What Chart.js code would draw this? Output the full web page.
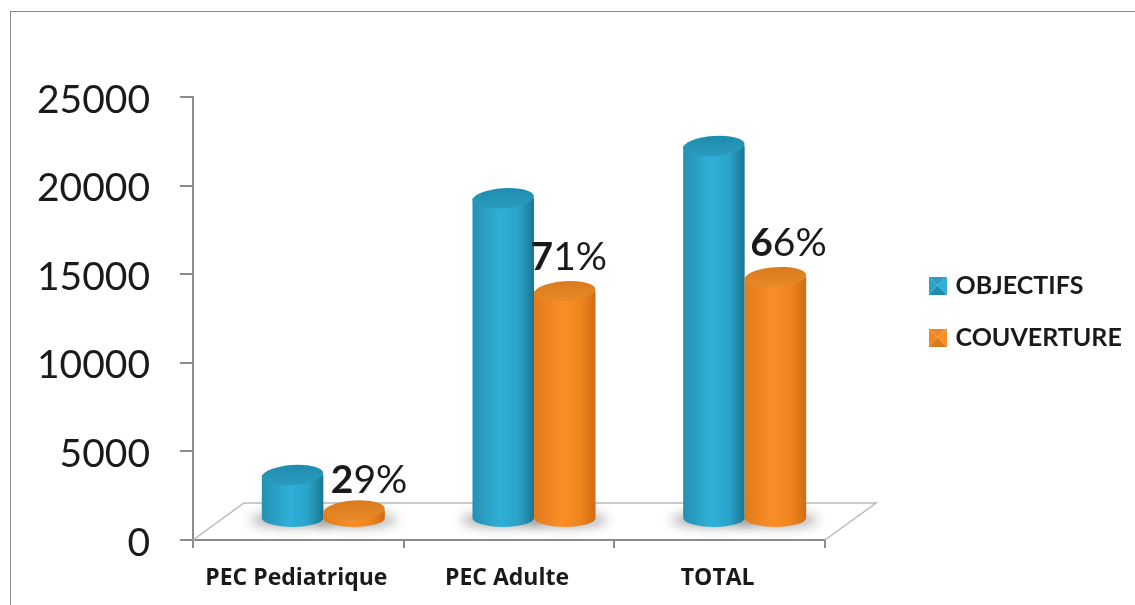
<!DOCTYPE html>
<html>
<head>
<meta charset="utf-8">
<style>
  html, body { margin: 0; padding: 0; background: #fff; overflow: hidden; }
  #frame { position: absolute; left: 10px; top: 11px; width: 1125px; height: 594px; border-left: 1px solid #8a8a8a; border-top: 1px solid #8a8a8a; }
  canvas { position: absolute; left: 0; top: 0; filter: blur(0.4px); }
</style>
<script src="https://cdn.jsdelivr.net/npm/chart.js@4"></script>
</head>
<body>
<div id="frame"></div>
<canvas id="myChart" width="1135" height="605"></canvas>
<script>
  const categories = ["PEC Pediatrique", "PEC Adulte", "TOTAL"];
  const objectifs = [2480, 18100, 21050];
  const couverture = [480, 12850, 13650];
  const coverLabels = ["29%", "71%", "66%"];
  const yMax = 25000;
  const yStep = 5000;

  // depth of the fake 3D floor, and where the cylinders stand on it
  const floorDepth = { x: 51, y: 37 };
  const barShift = { x: 25, y: 21 };
  const labelNudge = [[15, 4], [4, 0], [13, 0]];
  const fontName = "Lato, 'Open Sans', sans-serif";

  const blue = { edgeL: "#2590b2", mid: "#2fb0d8", edgeR: "#1a7592", cap: "#1f8cae", capHi: "#2a9cc0", fill: "#2aa3c9" };
  const orange = { edgeL: "#e27a1c", mid: "#fa8f28", edgeR: "#d06c14", cap: "#d97a1d", capHi: "#e88a28", fill: "#f0851f" };

  function legendMarker(pal) {
    var c = document.createElement("canvas");
    c.width = 18;
    c.height = 18;
    var g = c.getContext("2d");
    function tri(color, x1, y1, x2, y2) {
      g.fillStyle = color;
      g.beginPath();
      g.moveTo(9, 9);
      g.lineTo(x1, y1);
      g.lineTo(x2, y2);
      g.fill();
    }
    tri(pal.capHi, 0, 0, 18, 0);
    tri(pal.mid, 18, 0, 18, 18);
    tri(pal.cap, 18, 18, 0, 18);
    tri(pal.fill, 0, 18, 0, 0);
    return c;
  }

  function drawCylinder(ctx, x, top, base, w, pal) {
    var rx = w / 2;
    var ry = 10;
    var left = x - rx;
    var right = x + rx;

    var body = ctx.createLinearGradient(left, 0, right, 0);
    body.addColorStop(0, pal.edgeL);
    body.addColorStop(0.45, pal.mid);
    body.addColorStop(0.75, pal.fill);
    body.addColorStop(1, pal.edgeR);
    ctx.fillStyle = body;
    ctx.beginPath();
    ctx.moveTo(left, top);
    ctx.lineTo(left, base);
    ctx.ellipse(x, base, rx, ry - 1, 0, Math.PI, 0, true);
    ctx.lineTo(right, top);
    ctx.closePath();
    ctx.fill();

    var cap = ctx.createLinearGradient(0, top - ry, 0, top + ry);
    cap.addColorStop(0, pal.cap);
    cap.addColorStop(1, pal.capHi);
    ctx.fillStyle = cap;
    ctx.beginPath();
    ctx.ellipse(x, top, rx, ry, -0.07, 0, Math.PI * 2);
    ctx.fill();
  }

  const fakeDepth = {
    id: "fakeDepth",
    afterLayout: function (chart) {
      // legend sits outside the plot, right of the floor
      var lg = chart.legend;
      lg.left = 932 - lg.options.labels.padding;
      lg.right = 1135;
      lg.top = 246;
      lg.bottom = 400;
      lg.width = lg.right - lg.left;
      lg.height = lg.bottom - lg.top;
    },
    beforeDatasetsDraw: function (chart) {
      var ctx = chart.ctx;
      var a = chart.chartArea;
      ctx.save();
      ctx.strokeStyle = "#b9b9b9";
      ctx.lineWidth = 1.5;
      ctx.beginPath();
      ctx.moveTo(a.left, a.bottom);
      ctx.lineTo(a.left + floorDepth.x, a.bottom - floorDepth.y);
      ctx.lineTo(a.right + floorDepth.x, a.bottom - floorDepth.y);
      ctx.lineTo(a.right, a.bottom);
      ctx.stroke();

      // soft shadows under the cylinders
      ctx.filter = "blur(6px)";
      ctx.fillStyle = "rgba(85,85,85,0.5)";
      [0, 1].forEach(function (i) {
        chart.getDatasetMeta(i).data.forEach(function (bar) {
          var p = bar.getProps(["x", "base", "width"], true);
          ctx.beginPath();
          ctx.ellipse(p.x + barShift.x, p.base - barShift.y + 2, p.width / 2 + 12, 7, 0, 0, Math.PI * 2);
          ctx.fill();
        });
      });
      ctx.restore();

      // orange has to land on top of blue, so paint the datasets in order here
      [0, 1].forEach(function (i) {
        chart.getDatasetMeta(i).data.forEach(function (bar) {
          var p = bar.getProps(["x", "y", "base", "width"], true);
          drawCylinder(ctx, p.x + barShift.x, p.y - barShift.y, p.base - barShift.y, p.width, i === 0 ? blue : orange);
        });
      });
    },
    beforeDatasetDraw: function () {
      return false;
    },
    afterDatasetsDraw: function (chart) {
      var ctx = chart.ctx;
      var meta = chart.getDatasetMeta(1);
      ctx.save();
      ctx.fillStyle = "#1a1a1a";
      ctx.textBaseline = "alphabetic";
      coverLabels.forEach(function (txt, i) {
        var p = meta.data[i].getProps(["x", "y"], true);
        var head = txt.charAt(0);
        var tail = txt.slice(1);
        var boldFont = "bold 39px " + fontName;
        var thinFont = "39px " + fontName;
        ctx.font = boldFont;
        var hw = ctx.measureText(head).width;
        ctx.font = thinFont;
        var tw = ctx.measureText(tail).width;
        var x = p.x + barShift.x + labelNudge[i][0] - (hw + tw) / 2;
        var y = p.y - barShift.y - 21 + labelNudge[i][1];
        ctx.font = boldFont;
        ctx.textAlign = "left";
        ctx.fillText(head, x, y);
        ctx.font = thinFont;
        ctx.fillText(tail, x + hw, y);
      });
      ctx.restore();
    },
  };

  const config = {
    type: "bar",
    data: {
      labels: categories,
      datasets: [
        { label: "OBJECTIFS", data: objectifs, backgroundColor: blue.fill },
        { label: "COUVERTURE", data: couverture, backgroundColor: orange.fill },
      ],
    },
    plugins: [fakeDepth],
    options: {
      responsive: false,
      animation: false,
      layout: { padding: { left: 0, top: 97, right: 310, bottom: 0 } },
      datasets: { bar: { categoryPercentage: 0.584, barPercentage: 1 } },
      plugins: {
        tooltip: { enabled: false },
        legend: {
          position: "chartArea",
          align: "start",
          labels: {
            color: "#1a1a1a",
            font: { family: fontName, size: 25, weight: "bold" },
            padding: 27,
            usePointStyle: true,
            pointStyleWidth: 11,
            generateLabels: function (chart) {
              return chart.data.datasets.map(function (ds, i) {
                return {
                  text: ds.label,
                  datasetIndex: i,
                  fontColor: "#1a1a1a",
                  pointStyle: legendMarker(i === 0 ? blue : orange),
                };
              });
            },
          },
        },
      },
      scales: {
        x: {
          afterFit: function (scale) { scale.height = 65; },
          grid: { offset: true, drawOnChartArea: false, tickLength: 8, color: "#8c8c8c", lineWidth: 2 },
          border: { color: "#8c8c8c", width: 2 },
          ticks: {
            color: "#1a1a1a",
            padding: 17,
            labelOffset: -2,
            maxRotation: 0,
            font: { family: "'Open Sans', " + fontName, size: 23, weight: "bold" },
          },
        },
        y: {
          min: 0,
          max: yMax,
          afterFit: function (scale) { scale.width = 193; },
          grid: { drawOnChartArea: false, tickLength: 13, color: "#8c8c8c", lineWidth: 2 },
          border: { color: "#8c8c8c", width: 2 },
          ticks: {
            stepSize: yStep,
            color: "#1a1a1a",
            padding: 30,
            labelOffset: 3,
            font: { family: fontName, size: 39 },
            callback: function (value) { return String(value); },
          },
        },
      },
    },
  };

  const myChart = new Chart(document.getElementById("myChart"), config);
</script>
</body>
</html>
